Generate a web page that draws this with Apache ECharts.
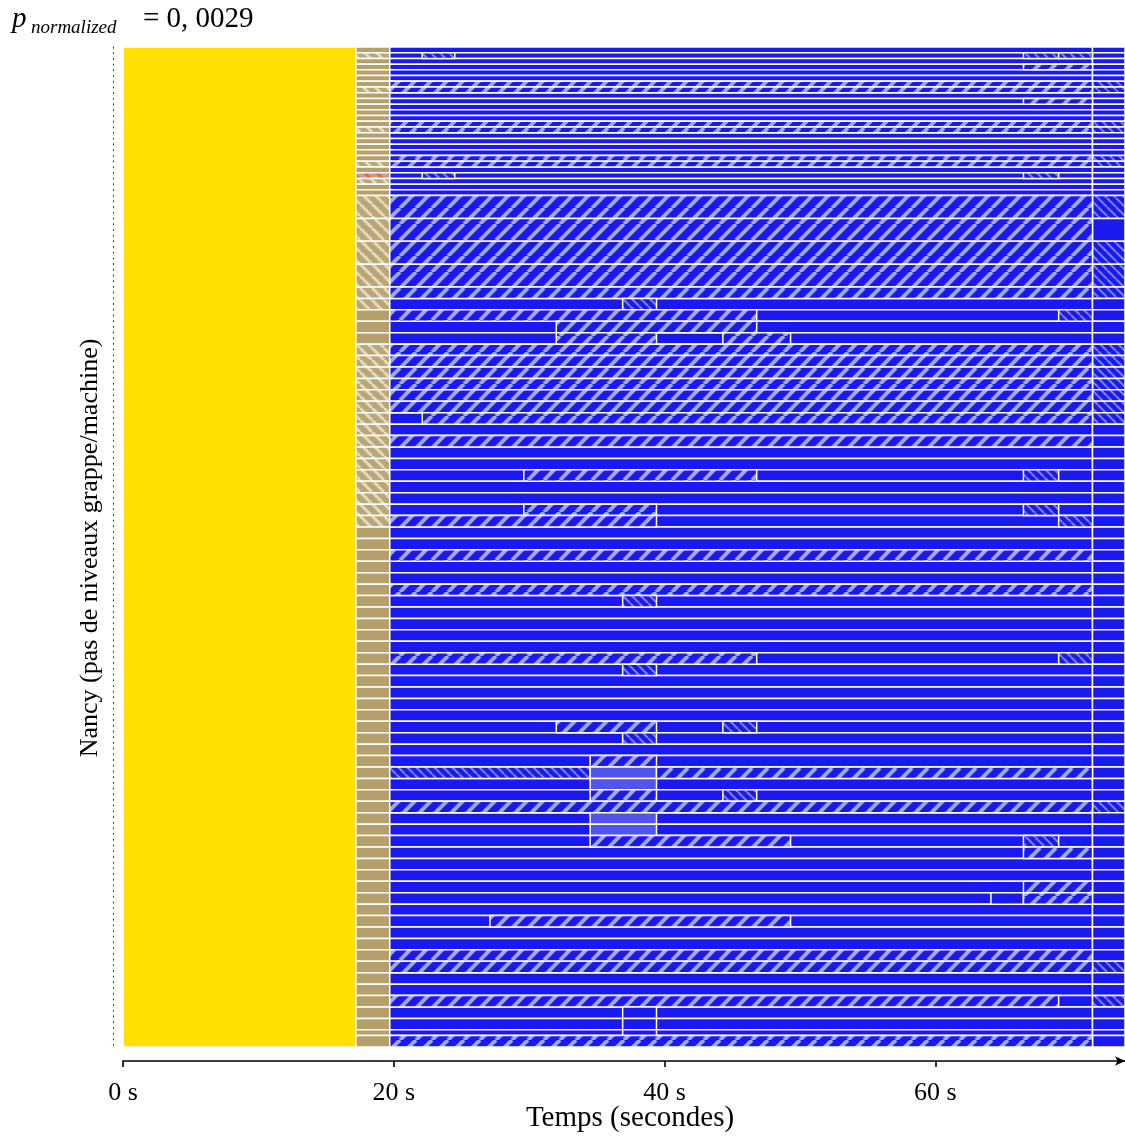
<!DOCTYPE html>
<html>
<head>
<meta charset="utf-8">
<script src="https://cdn.jsdelivr.net/npm/echarts@6/dist/echarts.min.js"></script>
<style>html,body{margin:0;padding:0;background:#fff}#c{width:1125px;height:1137px}</style>
</head>
<body>
<div id="c"></div>
<script>
// ---- data ----
// time boundaries (s): start, end of yellow phase, end of tan phase, split line, end of trace
const phaseTimes = [0, 17.2, 19.7, 71.6, 74];
// height of each aggregated row, in machines (top to bottom)
const rowUnits = [
  1,1,1,1,1,1,1,1,1,1, 1,1,1,1,1,1,1,1,1,1, 1,1,1,1,1,1,
  4,4,4,4,
  2,2,2,2,2,2,2,2,2,2, 2,2,2,2,2,2,2,2,2,2,
  2,2,2,2,2,2,2,2,2,2, 2,2,2,2,2,2,2,2,2,2,
  2,2,2,2,2,2,2,2,2,2, 2,2,2,2,2,2,2,2,2,2,
  2,2,2,2,2,
  1, 2
];
// rows whose tan phase is hatched / red
const tanHatchRows = [1,7,14,20,23,26,27,28,29,30,31,35,36,37,38,39,40,41,42,43,44,45,46,47,48,49,50];
const tanRedRows = [22];
// rows whose last part (after split) is back-hatched
const rightBackRows = [6,7,13,14,19,20,26,28,29,30,35,36,37,38,39,40,41,75,89,92];
// [row, start (s), end (s), kind]  f = '/' hatch, b = '\' hatch, l = light, p = plain
const blueSegments = [
  [1,22.1,24.5,'b'],[1,66.5,69.1,'b'],[1,69.1,71.6,'b'],
  [3,66.5,71.6,'f'],
  [6,19.7,71.6,'f'],[7,19.7,71.6,'f'],
  [9,66.5,71.6,'f'],
  [13,19.7,71.6,'f'],[14,19.7,71.6,'f'],
  [19,19.7,71.6,'f'],[20,19.7,71.6,'f'],
  [22,22.1,24.5,'b'],[22,66.5,69.1,'b'],
  [26,19.7,71.6,'f'],[27,19.7,71.6,'f'],[28,19.7,71.6,'f'],[29,19.7,71.6,'f'],
  [30,19.7,71.6,'f'],
  [31,36.9,39.4,'b'],
  [32,19.7,46.8,'f'],[32,69.1,71.6,'b'],
  [33,32.0,46.8,'f'],
  [34,32.0,39.4,'f'],[34,44.3,49.3,'f'],
  [35,19.7,71.6,'f'],[36,19.7,71.6,'f'],[37,19.7,71.6,'f'],[38,19.7,71.6,'f'],[39,19.7,71.6,'f'],[40,19.7,71.6,'f'],
  [41,22.1,71.6,'f'],
  [43,19.7,71.6,'f'],
  [46,29.6,46.8,'f'],[46,66.5,69.1,'b'],
  [49,29.6,39.4,'f'],[49,66.5,69.1,'b'],
  [50,19.7,39.4,'f'],[50,69.1,71.6,'b'],
  [53,19.7,71.6,'f'],
  [56,19.7,71.6,'f'],
  [57,36.9,39.4,'b'],
  [62,19.7,46.8,'f'],[62,69.1,71.6,'b'],
  [63,36.9,39.4,'b'],
  [68,32.0,39.4,'f'],[68,44.3,46.8,'b'],
  [69,36.9,39.4,'b'],
  [71,34.5,39.4,'f'],
  [72,19.7,34.5,'b'],[72,34.5,39.4,'l'],[72,39.4,71.6,'f'],
  [73,34.5,39.4,'l'],
  [74,34.5,39.4,'f'],[74,44.3,46.8,'b'],
  [75,19.7,71.6,'f'],
  [76,34.5,39.4,'l'],
  [77,34.5,39.4,'l'],
  [78,34.5,49.3,'f'],[78,66.5,69.1,'b'],
  [79,66.5,71.6,'f'],
  [82,66.5,71.6,'f'],
  [83,64.1,66.5,'p'],[83,66.5,71.6,'f'],
  [85,27.1,49.3,'f'],
  [88,19.7,71.6,'f'],
  [89,19.7,71.6,'f'],
  [92,19.7,69.1,'f'],
  [93,36.9,39.4,'p'],
  [94,36.9,39.4,'p'],
  [95,36.9,39.4,'p'],
  [96,19.7,71.6,'f']
];
const xTicks = [0, 20, 40, 60];

// ---- patterns ----
function stripes(size, base, color, width, dir) {
  const c = document.createElement('canvas');
  c.width = size; c.height = size;
  const g = c.getContext('2d');
  g.fillStyle = base; g.fillRect(0, 0, size, size);
  g.strokeStyle = color; g.lineWidth = width;
  for (const o of [-size, 0, size]) {
    g.beginPath();
    if (dir > 0) { g.moveTo(o, size); g.lineTo(o + size, 0); }
    else { g.moveTo(o, 0); g.lineTo(o + size, size); }
    g.stroke();
  }
  return { image: c, repeat: 'repeat' };
}
const BLUE = '#1a1af0';
const fills = {
  y: '#ffe000',
  t: '#b5a06b',
  h: stripes(12, '#bba775', '#e3dabf', 3, -1),
  r: stripes(12, '#c8a27e', '#f25a5a', 3, -1),
  p: BLUE,
  f: stripes(16, BLUE, '#a2a8e6', 4, 1),
  b: stripes(9, BLUE, '#7d80e8', 2, -1),
  l: '#5353f0'
};

// ---- build rectangles ----
const rowStart = [];
let acc = 0;
rowUnits.forEach(u => { rowStart.push(acc); acc += u; });
const totalUnits = acc;
const items = [];
items.push([phaseTimes[0], phaseTimes[1], 0, totalUnits, 'y']);
rowUnits.forEach((u, i) => {
  const a = rowStart[i], b = a + u;
  const tk = tanRedRows.includes(i) ? 'r' : (tanHatchRows.includes(i) ? 'h' : 't');
  items.push([phaseTimes[1], phaseTimes[2], a, b, tk]);
  items.push([phaseTimes[2], phaseTimes[3], a, b, 'p']);
  items.push([phaseTimes[3], phaseTimes[4], a, b, rightBackRows.includes(i) ? 'b' : 'p']);
});
blueSegments.forEach(s => {
  const a = rowStart[s[0]], b = a + rowUnits[s[0]];
  items.push([s[1], s[2], a, b, s[3]]);
});

function renderItem(params, api) {
  const it = items[params.dataIndex];
  const p0 = api.coord([it[0], it[2]]);
  const p1 = api.coord([it[1], it[3]]);
  return {
    type: 'rect',
    shape: { x: p0[0], y: p0[1], width: p1[0] - p0[0], height: p1[1] - p0[1] },
    style: { fill: fills[it[4]], stroke: '#ffffff', lineWidth: 1.5 }
  };
}

const chart = echarts.init(document.getElementById('c'), null, { renderer: 'canvas' });
const serif = 'Liberation Serif';
chart.setOption({
  animation: false,
  grid: { left: 123, right: 0, top: 47, bottom: 90, outerBoundsMode: 'none', containLabel: false },
  xAxis: {
    type: 'value', min: phaseTimes[0], max: phaseTimes[4], interval: 20, offset: 14, position: 'bottom',
    axisLine: { show: true, onZero: false, symbol: ['none', 'arrow'], symbolSize: [7, 10], lineStyle: { color: '#000', width: 1.6 } },
    axisTick: { show: true, length: 6, customValues: xTicks, lineStyle: { color: '#000', width: 1.6 } },
    axisLabel: { customValues: xTicks, formatter: '{value} s', fontFamily: serif, fontSize: 26, color: '#000', margin: 19 },
    splitLine: { show: false }
  },
  yAxis: {
    type: 'value', min: 0, max: totalUnits, inverse: true, offset: 10, position: 'left',
    axisLine: { show: true, onZero: false, lineStyle: { color: '#333', width: 1, type: [1, 4.7] } },
    axisTick: { show: false }, axisLabel: { show: false }, splitLine: { show: false }
  },
  graphic: [
    { type: 'text', x: 12, y: 34, style: { text: 'p', fontFamily: serif, fontStyle: 'italic', fontSize: 29, fill: '#000', verticalAlign: 'bottom' } },
    { type: 'text', x: 31, y: 37, style: { text: 'normalized', fontFamily: serif, fontStyle: 'italic', fontSize: 19, fill: '#000', verticalAlign: 'bottom' } },
    { type: 'text', x: 143, y: 34, style: { text: '= 0, 0029', fontFamily: serif, fontSize: 29, fill: '#000', verticalAlign: 'bottom' } },
    { type: 'text', x: 630, y: 1118, style: { text: 'Temps (secondes)', fontFamily: serif, fontSize: 29, fill: '#000', align: 'center', verticalAlign: 'middle' } },
    { type: 'text', x: 90, y: 548, rotation: Math.PI / 2, style: { text: 'Nancy (pas de niveaux grappe/machine)', fontFamily: serif, fontSize: 26, fill: '#000', align: 'center', verticalAlign: 'middle' } }
  ],
  series: [{
    type: 'custom',
    renderItem: renderItem,
    encode: { x: [0, 1], y: [2, 3] },
    data: items.map(it => [it[0], it[1], it[2], it[3]]),
    clip: false
  }]
});
</script>
</body>
</html>
